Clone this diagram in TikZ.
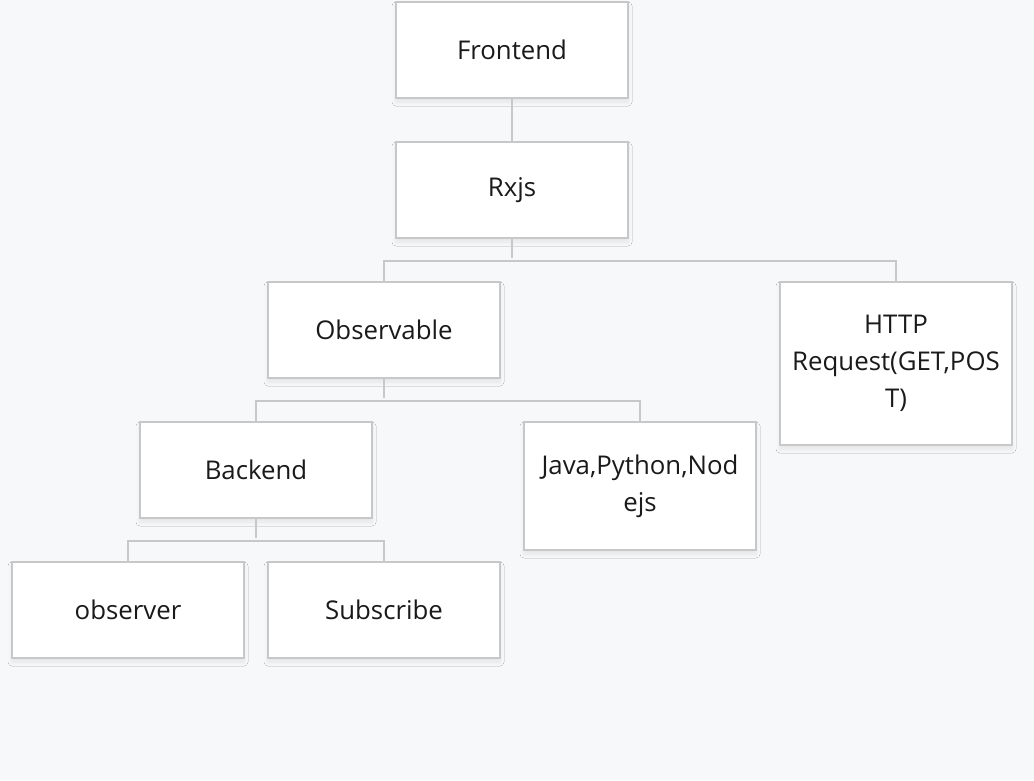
\documentclass[tikz,border=0pt]{standalone}
\usepackage{fontspec}
\setmainfont{Open Sans}
\usetikzlibrary{shadows.blur}
\definecolor{bgc}{HTML}{F7F8FA}
\definecolor{edgec}{HTML}{C8C8C8}
\definecolor{txtc}{HTML}{1A1A1A}
\tikzset{
  box/.style={draw=edgec, line width=2pt, fill=white, minimum width=232pt,
    minimum height=96pt, align=center, text=txtc, inner sep=0pt,
    font=\fontsize{25.8}{37}\selectfont,
    blur shadow={shadow xshift=0pt, shadow yshift=-4pt, shadow opacity=8, shadow blur radius=4pt, shadow blur steps=6}},
  link/.style={draw=edgec, line width=2pt}
}
\begin{document}
\begin{tikzpicture}[x=1pt,y=-1pt]
\fill[bgc] (0,0) rectangle (1034,780);
\useasboundingbox (0,0) rectangle (1034,780);
\node[box] (fe) at (512,50) {Frontend};
\node[box] (rx) at (512,190) {Rxjs};
\node[box] (ob) at (384,330) {Observable};
\node[box, minimum height=163pt] (ht) at (896,363.5) {HTTP\\Request(GET,POS\\T)};
\node[box] (be) at (256,470) {Backend};
\node[box, minimum height=128pt] (jv) at (640,486) {Java,Python,Nod\\ejs};
\node[box] (os) at (128,610) {observer};
\node[box] (su) at (384,610) {Subscribe};
\draw[link] (fe.south) -- (rx.north);
\draw[link] (rx.south) -- ++(0,19);
\draw[link] (ob.north) -- ++(0,-20) -| (ht.north);
\draw[link] (ob.south) -- ++(0,19);
\draw[link] (be.north) -- ++(0,-20) -| (jv.north);
\draw[link] (be.south) -- ++(0,19);
\draw[link] (os.north) -- ++(0,-20) -| (su.north);
\end{tikzpicture}
\end{document}
